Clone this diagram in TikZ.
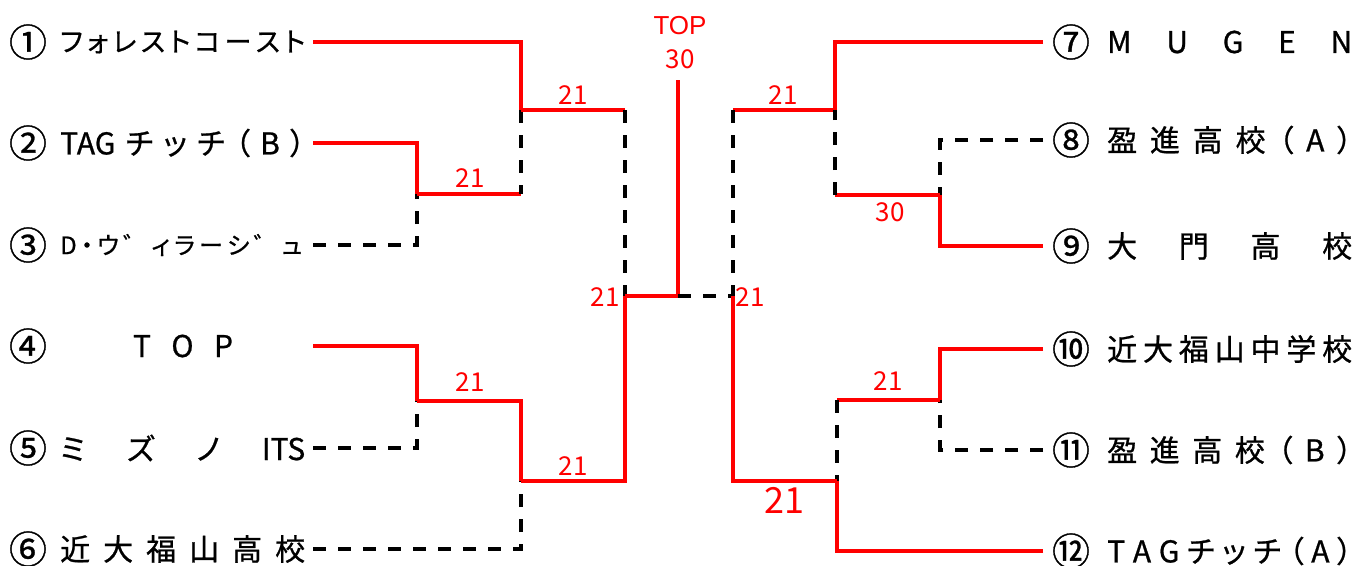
\documentclass[tikz,border=0pt]{standalone}
\usepackage{fontspec}
\setmainfont{Noto Sans CJK JP}[RawFeature=+palt]
\newfontfamily\teamfont{Noto Sans CJK JP}[RawFeature=+palt,FakeBold=0.8]
\newfontfamily\latinfont{Liberation Sans}
\usetikzlibrary{positioning}
\definecolor{winred}{RGB}{255,0,0}
\newcommand\spreadname[2][245pt]{\makebox[#1][s]{#2}}

\begin{document}
\begin{tikzpicture}[
  x=1pt,y=-1pt,
  every node/.style={inner sep=0pt},
  num/.style={font=\teamfont\fontsize{38}{38}\selectfont},
  team/.style={font=\teamfont\fontsize{30}{30}\selectfont,anchor=west},
  tightteam/.style={team,font=\teamfont\fontsize{27}{27}\selectfont},
  score/.style={text=winred,font=\fontsize{26}{34}\selectfont},
  bigscore/.style={score,font=\fontsize{36}{36}\selectfont},
  win/.style={draw=winred,line width=3.3pt},
  lose/.style={draw=black,line width=3.3pt,dash pattern=on 13pt off 12pt},
]
\useasboundingbox (0,0) rectangle (1357,565);

% left block
\node[num] (n1) at (28,42) {①};
\node[num] (n2) at (28,143) {②};
\node[num] (n3) at (28,245) {③};
\node[num] (n4) at (28,346) {④};
\node[num] (n5) at (28,448) {⑤};
\node[num] (n6) at (28,549) {⑥};
\node[tightteam] (t1) at (60,42) {\spreadname{フ ォ レ ス ト コ ー ス ト}};
\node[team] (t2) at (60,143) {\spreadname{TAG チ ッ チ （ B ）}};
\node[tightteam,font=\teamfont\fontsize{24}{24}\selectfont] (t3) at (60,245) {\spreadname[242pt]{D ・ ウ ゛ ィ ラ ー シ ゛ ュ}};
\node[team,anchor=center] (t4) at (183,346) {\spreadname[100pt]{T O P}};
\node[team] (t5) at (60,448) {\spreadname{ミ ズ ノ ITS}};
\node[team] (t6) at (60,549) {\spreadname{近 大 福 山 高 校}};

% right block
\node[num] (n7) at (1071,42) {⑦};
\node[num] (n8) at (1071,140) {⑧};
\node[num] (n9) at (1071,246) {⑨};
\node[num] (n10) at (1071,349) {⑩};
\node[num] (n11) at (1071,450) {⑪};
\node[num] (n12) at (1071,551) {⑫};
\node[team] (t7) at (1107,42) {\spreadname{M U G E N}};
\node[team] (t8) at (1107,140) {\spreadname{盈 進 高 校 （ A ）}};
\node[team] (t9) at (1107,246) {\spreadname{大 門 高 校}};
\node[team] (t10) at (1107,349) {\spreadname{近 大 福 山 中 学 校}};
\node[team] (t11) at (1107,450) {\spreadname{盈 進 高 校 （ B ）}};
\node[team] (t12) at (1107,551) {\spreadname{T A G チ ッ チ （ A ）}};

% line ends and junctions
\coordinate (a1) at (313,42);
\coordinate (a2) at (313,143);
\coordinate (a3) at (313,245);
\coordinate (a4) at (313,346);
\coordinate (a5) at (313,448);
\coordinate (a6) at (313,549);
\coordinate (a7) at (1043,42);
\coordinate (a8) at (1043,140);
\coordinate (a9) at (1043,246);
\coordinate (a10) at (1043,349);
\coordinate (a11) at (1043,450);
\coordinate (a12) at (1043,551);
\coordinate (m23) at (417,194);
\coordinate (m1) at (521,110);
\coordinate (m45) at (417,401);
\coordinate (m6) at (521,481);
\coordinate (sl) at (625,296);
\coordinate (fin) at (678,296);
\coordinate (topend) at (678,80);
\coordinate (sr) at (733,296);
\coordinate (r1) at (835,110);
\coordinate (r89) at (940,195);
\coordinate (r12) at (837,481);
\coordinate (r1011) at (940,400);

% left bracket
\draw[win] (a1) -| (m1);
\draw[win] (a2) -| (m23);
\draw[lose] (a3) -| (m23);
\draw[win] (m23) -- (m23 -| m1);
\draw[lose] (m1) -- (m23 -| m1);
\draw[win] (m1) -- (m1 -| sl);
\draw[lose] (m1 -| sl) -- (sl);
\draw[win] (a4) -| (m45);
\draw[lose] (a5) -| (m45);
\draw[win] (m45) -| (m6);
\draw[lose] (a6) -| (m6);
\draw[win] (m6) -| (sl);
\draw[win] (sl) -- (fin);

% final
\draw[win] (fin) -- (topend);
\draw[lose] (fin) -- (sr);

% right bracket
\draw[win] (a7) -| (r1);
\draw[win] (r1) -- (r1 -| sr);
\draw[lose] (r1 -| sr) -- (sr);
\draw[win] (a9) -| (r89);
\draw[lose] (a8) -| (r89);
\draw[win] (r89) -- (r89 -| r1);
\draw[lose] (r89 -| r1) -- (r1);
\draw[win] (a10) -| (r1011);
\draw[lose] (a11) -| (r1011);
\draw[win] (r1011) -- (r1011 -| r12);
\draw[lose] (r1011 -| r12) -- (r12);
\draw[win] (a12) -| (r12);
\draw[win] (r12) -| (sr);

% scores
\node[score] (s23) at (470,178) {21};
\node[score] (s1) at (573,95) {21};
\node[score] (s45) at (470,382) {21};
\node[score] (s6) at (573,466) {21};
\node[score] (sl21) at (605,297) {21};
\node[score] (sr21) at (750,297) {21};
\node[score,align=center] (champ) at (680,43) {{\latinfont TOP}\\30};
\node[score] (s7) at (783,95) {21};
\node[score] (s89) at (890,212) {30};
\node[score] (s1011) at (888,381) {21};
\node[bigscore] (s12) at (784,500) {21};
\end{tikzpicture}
\end{document}
